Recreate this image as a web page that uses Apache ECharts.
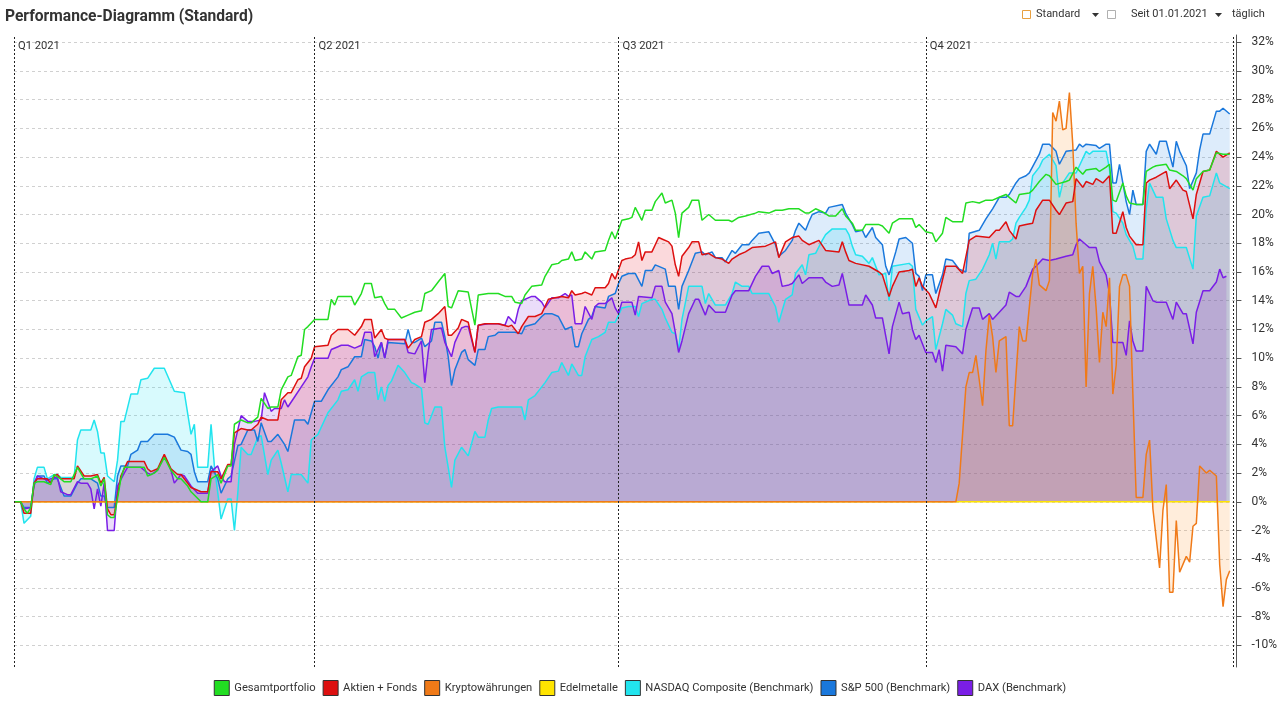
<!DOCTYPE html>
<html>
<head>
<meta charset="utf-8">
<script src="https://cdn.jsdelivr.net/npm/echarts@6/dist/echarts.min.js"></script>
<style>html,body{margin:0;padding:0;background:#fff}#c{width:1280px;height:705px}</style>
</head>
<body>
<div id="c"></div>
<script>
// ---- data: [day offset from 2021-01-01, performance %] ----
const START_DATE = '2021-01-01';
const QUARTER_DAYS = [0, 90, 181, 273];
const QUARTER_LABELS = ['Q1 2021', 'Q2 2021', 'Q3 2021', 'Q4 2021'];
const END_DAY = 365;
const AXIS_END_DAY = 366;

const GESAMT = [[0,0],[2,0],[3,-0.5],[4,-0.8],[5,-0.4],[6,1.3],[7,1.4],[9,1.4],[11,1.2],[12,1.9],[14,1.6],[15,1.4],[17,1.4],[19,2.4],[21,1.6],[23,1.6],[25,1.8],[26,1.1],[27,1.6],[28,-0.9],[29,-1.1],[30,-1.1],[32,1.6],[33,2.4],[39,2.4],[40,1.8],[42,2.0],[43,2.2],[45,3.1],[47,2.2],[49,1.6],[50,1.6],[52,1.1],[53,0.7],[56,0.0],[58,0.0],[59,1.6],[61,1.9],[62,1.3],[64,2.5],[65,2.5],[66,5.4],[68,5.7],[70,5.5],[71,5.5],[73,5.9],[74,7.2],[76,6.5],[77,6.6],[79,6.6],[80,7.8],[82,8.7],[83,8.8],[85,10.1],[86,10.2],[87,12.0],[88,12.2],[90,12.7],[94,12.7],[95,14.1],[96,13.7],[97,14.3],[101,14.3],[102,13.7],[104,14.5],[105,15.2],[107,15.2],[108,14.2],[110,14.3],[111,13.8],[112,13.4],[114,13.4],[116,12.8],[118,13.0],[120,13.2],[122,13.3],[123,14.5],[125,14.7],[127,15.3],[129,15.9],[130,13.6],[131,13.5],[133,14.7],[136,14.6],[138,12.3],[139,14.4],[142,14.5],[145,14.5],[147,14.3],[149,14.3],[150,13.9],[152,13.8],[153,14.4],[155,15.0],[158,15.1],[159,15.7],[161,16.5],[163,16.6],[164,16.8],[166,16.9],[167,17.4],[168,16.8],[170,16.9],[171,17.4],[173,16.9],[174,17.4],[177,17.5],[178,18.2],[179,18.8],[180,18.3],[182,19.6],[184,19.7],[185,19.8],[186,20.5],[188,19.6],[189,20.3],[191,20.3],[192,20.9],[194,21.5],[195,20.8],[197,21.0],[198,20.1],[199,18.4],[200,20.1],[202,20.5],[203,21.0],[205,21.0],[206,19.6],[208,20.0],[210,19.6],[214,19.6],[215,19.5],[217,19.8],[219,19.9],[222,20.1],[223,20.2],[226,20.1],[228,20.3],[230,20.3],[232,20.4],[235,20.4],[237,20.1],[238,20.1],[240,20.4],[242,20.2],[244,19.9],[246,19.9],[248,20.4],[249,19.9],[251,19.4],[252,18.9],[254,18.9],[255,19.3],[259,19.3],[260,19.2],[262,18.7],[263,19.4],[265,19.7],[269,19.7],[270,19.1],[271,19.3],[273,18.8],[275,18.7],[276,18.1],[278,18.7],[279,19.8],[281,19.5],[284,19.5],[285,20.8],[287,20.9],[289,20.8],[291,21.0],[293,21.0],[295,21.2],[297,21.4],[298,21.2],[300,20.8],[301,21.4],[304,21.5],[305,21.7],[307,22.3],[309,22.8],[310,22.7],[312,22.1],[315,22.3],[316,22.4],[318,23.3],[320,22.8],[321,23.1],[324,23.2],[325,23.0],[327,23.3],[328,23.5],[329,21.0],[330,20.9],[332,22.2],[333,21.3],[334,20.8],[336,20.7],[338,20.7],[339,23.0],[341,23.3],[342,23.4],[345,23.5],[346,23.1],[348,23.0],[350,22.7],[351,22.5],[353,21.7],[354,22.5],[356,23.0],[358,23.1],[360,24.3],[362,24.2],[364,24.2]];

const AKTIEN = [[0,0],[2,0],[3,-0.8],[5,-0.8],[6,1.3],[7,1.6],[10,1.6],[11,1.3],[12,1.8],[13,1.9],[14,1.6],[18,1.6],[19,2.5],[21,1.8],[23,1.8],[25,1.9],[26,1.3],[27,1.7],[28,-0.5],[29,-0.9],[30,-0.9],[32,1.8],[34,2.8],[39,2.8],[40,2.3],[41,2.1],[43,2.3],[45,3.3],[47,2.3],[49,1.9],[50,1.9],[52,1.3],[53,1.0],[56,0.7],[58,0.7],[59,2.1],[61,2.1],[62,1.6],[64,2.6],[65,2.6],[66,4.8],[68,5.1],[70,5.0],[71,5.0],[73,5.4],[74,5.9],[76,5.7],[79,5.7],[80,7.1],[82,7.6],[83,7.6],[85,8.5],[86,8.6],[87,9.4],[89,10.0],[90,10.8],[94,10.9],[95,11.6],[97,12.0],[100,12.0],[102,11.6],[104,12.2],[105,12.7],[107,12.7],[108,11.4],[110,12.0],[111,11.4],[112,11.3],[117,11.3],[118,10.7],[120,11.3],[122,11.5],[123,12.5],[125,12.7],[127,13.1],[129,13.6],[130,11.6],[131,11.6],[133,12.1],[134,12.7],[136,12.5],[138,10.4],[139,12.3],[141,12.4],[145,12.4],[148,12.2],[149,12.3],[151,11.7],[152,12.2],[154,12.9],[156,12.9],[158,13.1],[160,14.1],[162,14.2],[164,14.3],[166,14.2],[167,14.7],[168,14.4],[170,14.5],[171,14.6],[173,14.4],[174,14.9],[177,14.9],[178,15.2],[179,15.9],[180,15.5],[182,16.8],[183,16.9],[185,17.0],[186,17.2],[187,18.1],[188,16.8],[189,17.4],[191,17.4],[192,17.9],[193,18.4],[194,18.3],[196,18.1],[197,17.8],[198,16.5],[199,15.7],[200,17.1],[202,17.7],[203,18.1],[205,18.1],[206,17.2],[208,17.3],[210,17.0],[212,16.9],[214,16.6],[215,16.9],[217,17.2],[219,17.4],[221,17.7],[225,17.8],[228,18.1],[229,17.0],[231,18.1],[233,18.4],[235,18.5],[236,18.2],[238,17.9],[241,18.2],[243,17.5],[247,17.4],[248,18.1],[249,17.4],[250,16.8],[252,16.6],[256,16.4],[259,16.0],[260,15.8],[262,14.3],[263,15.0],[265,16.0],[268,16.1],[269,16.2],[270,15.0],[271,15.6],[272,15.0],[274,14.5],[276,13.5],[277,14.5],[279,16.4],[282,16.4],[284,15.9],[286,18.2],[288,18.5],[292,18.4],[294,18.9],[295,18.9],[297,19.5],[298,18.9],[300,18.3],[301,19.2],[303,19.3],[305,19.4],[306,20.3],[308,21.0],[310,21.0],[312,20.3],[313,20.0],[315,20.8],[317,20.9],[318,22.5],[320,21.9],[321,22.3],[323,22.1],[324,22.5],[326,22.2],[328,22.7],[329,18.7],[330,18.7],[332,20.2],[333,19.1],[334,18.5],[336,17.9],[338,17.9],[339,22.2],[340,22.4],[342,22.6],[345,23.0],[346,21.8],[348,22.4],[350,21.7],[351,21.6],[353,19.7],[354,21.4],[356,23.0],[358,23.1],[360,24.4],[362,24.0],[364,24.3]];

const KRYPTO = [[0,0],[282,0],[283,1.3],[285,8.0],[286,9.0],[287,9.0],[288,10.2],[289,8.5],[290,6.7],[291,10.5],[292,13.0],[293,11.5],[294,9.0],[295,11.2],[297,11.5],[298,5.3],[299,5.3],[300,8.8],[301,12.2],[302,11.2],[303,11.2],[305,15.9],[306,16.9],[307,15.1],[309,14.7],[310,15.4],[311,27.1],[312,26.5],[313,27.9],[314,25.9],[315,26.0],[316,28.5],[317,24.9],[318,19.4],[319,15.9],[320,16.4],[321,8.0],[322,14.5],[323,16.4],[324,13.5],[325,9.7],[326,13.2],[327,12.2],[328,15.6],[329,7.5],[330,9.5],[331,15.0],[332,15.8],[333,15.8],[334,15.0],[335,7.5],[336,0.3],[338,0.3],[339,3.3],[340,4.3],[341,-0.5],[343,-4.6],[344,-0.6],[345,1.2],[346,-6.3],[347,-6.3],[348,-1.3],[349,-4.9],[351,-3.8],[352,-4.2],[353,-1.7],[354,-1.5],[355,2.5],[357,2.0],[358,2.2],[360,1.8],[361,-4.4],[362,-7.3],[363,-5.4],[364,-4.8]];

const EDELMETALLE = [[0,0],[364,0]];

const NASDAQ = [[0,0],[2,0],[3,-1.5],[5,-1.0],[6,1.6],[7,2.4],[9,2.4],[10,1.6],[12,1.9],[13,1.9],[14,1.7],[18,1.7],[19,4.3],[20,5.0],[23,5.0],[24,5.7],[25,4.9],[26,3.4],[27,3.4],[28,1.8],[30,1.4],[31,2.9],[32,5.6],[33,5.6],[35,7.5],[37,7.5],[38,8.5],[40,8.6],[42,9.3],[45,9.3],[48,7.7],[51,7.6],[53,4.7],[54,5.4],[55,2.4],[58,2.4],[59,5.4],[60,2.5],[62,-1.2],[64,0.2],[65,0.2],[66,-2.0],[67,0.6],[68,3.8],[70,3.3],[71,3.3],[73,4.5],[74,4.6],[76,1.9],[77,2.9],[79,3.6],[80,2.7],[82,0.7],[83,1.9],[86,1.9],[88,1.3],[89,4.3],[91,4.7],[94,6.2],[97,7.1],[98,7.7],[100,7.8],[102,8.5],[103,7.7],[104,8.7],[106,9.0],[108,9.0],[109,7.1],[110,8.0],[111,7.0],[112,8.1],[113,8.4],[115,9.5],[117,9.0],[119,8.3],[120,8.2],[122,7.9],[123,5.5],[124,5.4],[126,6.6],[128,6.6],[129,3.8],[131,1.0],[132,2.9],[134,3.8],[136,3.2],[138,4.9],[139,4.5],[141,4.5],[142,5.7],[143,6.5],[145,6.6],[152,6.6],[153,5.7],[154,7.1],[156,7.4],[158,8.0],[159,8.3],[161,9.0],[163,9.1],[164,9.7],[166,8.8],[167,9.6],[169,8.8],[170,8.8],[171,10.1],[173,11.3],[175,11.5],[177,11.8],[178,12.5],[180,12.5],[182,13.5],[184,13.6],[186,13.6],[187,12.9],[188,13.8],[191,14.1],[192,14.1],[194,13.4],[195,12.8],[197,11.8],[198,11.7],[199,10.6],[200,12.7],[202,15.0],[206,15.0],[207,13.8],[208,14.5],[210,13.7],[213,13.7],[215,14.5],[216,15.3],[218,15.0],[220,15.0],[221,14.5],[226,14.5],[228,13.6],[229,12.5],[231,14.1],[233,14.4],[234,15.9],[236,16.5],[237,15.8],[238,17.2],[240,17.3],[242,18.2],[243,18.6],[245,19.0],[249,19.0],[250,18.6],[251,17.8],[252,17.2],[254,17.1],[256,16.6],[257,17.0],[259,15.8],[261,15.9],[262,14.0],[263,16.4],[268,16.6],[269,16.4],[270,13.4],[272,12.3],[273,12.6],[275,12.9],[276,10.6],[278,12.4],[279,13.4],[281,13.0],[282,12.4],[284,12.2],[285,14.5],[286,15.4],[288,15.5],[290,16.2],[292,17.2],[293,18.0],[294,16.9],[295,18.1],[298,18.1],[299,18.3],[300,19.4],[301,19.8],[303,20.5],[304,21.0],[305,22.7],[307,23.3],[308,23.8],[310,24.2],[312,23.4],[313,21.2],[314,22.2],[316,22.9],[318,22.9],[319,23.4],[321,24.4],[322,24.2],[323,24.4],[327,24.4],[328,23.2],[329,20.2],[330,20.1],[332,19.4],[333,18.6],[335,17.8],[336,16.9],[338,16.9],[339,20.4],[340,22.2],[342,21.2],[344,21.2],[345,19.7],[347,18.2],[348,17.7],[351,17.7],[353,16.2],[354,19.9],[356,21.2],[358,21.3],[360,22.9],[361,22.2],[364,21.8]];

const SP500 = [[0,0],[2,0],[3,-0.4],[5,-0.4],[6,1.1],[7,1.8],[9,1.8],[10,1.3],[12,1.6],[13,1.6],[15,0.4],[17,0.4],[19,1.3],[20,1.6],[23,1.6],[25,1.3],[26,0.4],[27,0.4],[28,-0.4],[30,-0.4],[31,1.8],[32,2.5],[34,2.5],[35,3.3],[37,3.6],[38,4.2],[40,4.2],[42,4.7],[46,4.7],[48,4.5],[50,3.6],[52,3.5],[53,3.3],[54,2.1],[55,1.4],[58,1.4],[59,2.5],[61,1.6],[62,0.6],[64,1.6],[65,1.8],[67,3.9],[68,4.0],[70,5.0],[72,5.0],[73,4.2],[74,5.5],[76,4.2],[77,4.2],[79,4.7],[81,4.0],[82,3.5],[84,5.7],[87,5.7],[88,5.4],[89,6.2],[90,7.0],[92,7.0],[94,7.8],[97,8.7],[98,9.2],[100,9.4],[102,10.1],[104,10.1],[105,11.3],[107,11.2],[108,10.8],[109,10.0],[110,11.1],[111,10.0],[112,11.1],[117,11.0],[118,12.0],[119,11.1],[120,11.1],[122,11.4],[123,10.8],[125,11.2],[126,12.5],[128,12.5],[129,11.5],[130,10.1],[131,8.1],[132,9.2],[134,10.4],[135,10.6],[136,9.9],[138,9.5],[139,10.6],[141,10.6],[142,11.5],[144,11.6],[145,11.8],[150,11.8],[152,11.7],[153,12.2],[156,12.4],[158,12.9],[159,13.1],[161,13.1],[163,12.9],[165,12.0],[167,12.2],[168,10.8],[169,10.8],[170,11.7],[172,12.7],[173,12.9],[174,13.6],[177,13.5],[178,14.3],[180,14.5],[181,15.2],[182,15.7],[184,15.9],[186,15.9],[188,15.0],[189,16.1],[191,16.1],[192,16.5],[195,16.2],[196,15.0],[198,15.0],[199,13.4],[200,15.0],[202,16.1],[204,17.3],[206,17.4],[207,17.2],[209,17.4],[210,17.0],[212,17.0],[213,16.7],[215,17.5],[216,17.3],[218,17.9],[220,17.9],[221,18.2],[223,18.7],[226,18.8],[228,17.9],[229,17.1],[231,17.5],[233,18.2],[234,18.9],[235,19.4],[237,18.9],[238,19.5],[239,20.0],[241,20.2],[243,20.1],[244,20.5],[248,20.7],[249,20.1],[251,19.3],[252,18.8],[254,18.9],[255,18.4],[257,19.1],[258,18.4],[260,17.9],[261,16.4],[262,15.8],[264,17.4],[265,18.3],[267,18.4],[269,18.0],[270,15.9],[271,15.7],[272,14.7],[273,15.8],[275,15.8],[276,14.5],[278,15.8],[279,16.9],[281,16.8],[283,16.2],[285,16.0],[286,18.7],[289,18.9],[291,19.7],[293,20.4],[295,21.2],[297,21.2],[298,21.4],[300,22.2],[301,22.5],[303,22.7],[304,22.9],[307,24.2],[308,24.9],[310,24.9],[312,24.4],[313,23.5],[315,24.4],[318,24.5],[319,24.9],[320,24.7],[321,24.9],[324,24.8],[325,24.6],[327,24.9],[328,24.9],[329,22.2],[330,22.2],[331,23.5],[333,20.9],[334,20.0],[335,21.7],[336,20.7],[338,20.7],[339,24.4],[340,24.9],[342,24.2],[343,25.1],[345,25.1],[346,24.2],[347,23.3],[348,25.1],[349,24.4],[351,23.4],[352,21.8],[354,22.9],[355,24.5],[356,25.6],[358,25.6],[360,27.2],[361,27.2],[362,27.4],[364,27.0]];

const DAX = [[0,0],[2,0],[3,-0.5],[5,-0.4],[6,1.3],[7,1.8],[9,1.6],[10,1.5],[12,1.7],[13,1.7],[14,0.7],[16,0.5],[17,0.5],[19,1.4],[20,1.3],[22,1.3],[23,0.9],[24,-0.5],[25,0.9],[26,-0.3],[27,1.3],[28,-2.0],[30,-2.0],[31,1.1],[33,2.0],[34,2.4],[38,2.4],[40,2.0],[41,1.9],[43,2.2],[45,3.2],[47,2.2],[48,1.3],[50,1.9],[51,1.8],[53,1.1],[55,0.6],[58,0.6],[59,2.1],[61,2.5],[62,1.8],[63,1.4],[65,1.4],[66,4.0],[68,6.0],[70,5.6],[72,5.6],[74,5.7],[75,7.6],[77,6.3],[78,6.5],[80,6.5],[81,7.1],[82,6.6],[84,7.3],[86,8.0],[88,8.7],[89,9.4],[90,10.0],[94,10.0],[95,10.6],[97,10.8],[98,10.9],[100,10.9],[102,10.7],[104,10.9],[105,11.8],[107,11.8],[108,10.1],[110,11.1],[111,10.0],[112,11.3],[117,11.3],[118,10.4],[120,10.3],[122,11.2],[123,8.3],[124,10.4],[125,12.0],[128,12.1],[129,11.1],[131,10.1],[132,11.1],[134,12.1],[135,12.2],[136,12.2],[138,10.4],[139,12.3],[142,12.4],[145,12.4],[147,12.3],[148,12.9],[150,12.4],[151,13.4],[152,14.0],[155,14.3],[156,14.3],[158,13.9],[159,13.5],[161,14.2],[163,14.2],[165,14.5],[166,14.3],[167,14.4],[168,12.4],[170,12.4],[171,13.6],[173,12.7],[174,13.6],[175,13.8],[177,13.8],[179,14.2],[180,13.5],[181,13.1],[182,13.9],[185,13.9],[186,13.0],[187,14.3],[191,14.2],[192,15.0],[194,15.0],[195,13.9],[197,13.1],[198,11.8],[199,10.4],[200,11.2],[202,13.1],[204,14.1],[205,14.1],[207,13.0],[208,13.7],[210,13.2],[213,13.2],[215,14.4],[216,14.7],[220,14.7],[222,15.7],[224,16.4],[226,16.4],[227,15.9],[229,16.1],[230,15.0],[232,15.1],[233,15.2],[235,15.8],[236,15.2],[238,15.6],[242,15.6],[243,15.3],[245,15.0],[247,15.1],[248,15.9],[250,13.7],[254,13.7],[255,14.4],[257,13.7],[258,12.8],[260,12.8],[262,10.3],[263,12.2],[265,13.9],[266,13.1],[268,13.2],[269,12.0],[270,11.3],[271,11.6],[273,10.4],[275,10.4],[276,9.7],[277,10.6],[278,9.1],[279,10.9],[282,10.8],[284,10.3],[285,12.0],[287,13.5],[289,13.5],[290,12.7],[292,13.1],[293,12.7],[295,13.2],[297,13.7],[298,14.6],[300,14.3],[301,14.3],[303,15.0],[305,16.2],[306,16.4],[308,16.9],[310,16.8],[312,16.9],[315,17.1],[317,17.2],[318,17.9],[319,18.3],[321,17.9],[322,17.7],[324,17.7],[325,16.7],[327,15.8],[328,14.5],[329,11.1],[332,11.1],[333,10.2],[334,12.6],[335,11.2],[336,10.5],[338,10.5],[339,15.0],[341,14.0],[342,13.9],[345,13.9],[347,12.7],[348,13.9],[350,13.1],[351,13.1],[353,11.0],[354,13.2],[356,14.7],[358,14.7],[360,15.3],[361,16.2],[362,15.6],[363,15.7]];

const Y_MIN = -11.5, Y_MAX = 32.5;

// ---- build ----
const FONT = 'Roboto, "Noto Sans", sans-serif';
const DAY_MS = 86400000;
const T0 = new Date(START_DATE + 'T00:00:00').getTime();
const t = d => T0 + d * DAY_MS;
const conv = arr => arr.map(p => [t(p[0]), p[1]]);

function mk(name, data, color, area, extra) {
  const s = {
    name, type: 'line', data: conv(data), symbol: 'none', showSymbol: false,
    lineStyle: { width: 1.5, color: color },
    itemStyle: { color: color },
    emphasis: { disabled: true },
    silent: true
  };
  if (area) s.areaStyle = { color: area };
  return Object.assign(s, extra || {});
}

const quarterLines = QUARTER_DAYS.concat([END_DAY]).map(d => ({ xAxis: t(d) }));
const quarterAreas = QUARTER_DAYS.map((d, i) => [
  { xAxis: t(d), name: QUARTER_LABELS[i] },
  { xAxis: t(i + 1 < QUARTER_DAYS.length ? QUARTER_DAYS[i + 1] : END_DAY) }
]);

const chart = echarts.init(document.getElementById('c'), null, { renderer: 'canvas' });
chart.setOption({
  animation: false,
  backgroundColor: '#fff',
  textStyle: { fontFamily: FONT },
  title: {
    text: 'Performance-Diagramm (Standard)', left: 0, top: 4,
    textStyle: { fontSize: 15.6, fontWeight: 'bold', color: '#333', fontFamily: FONT }
  },
  grid: { left: 14, right: 41, top: 35, bottom: 38, containLabel: false },
  xAxis: {
    type: 'time', min: t(0), max: t(AXIS_END_DAY),
    show: false, splitLine: { show: false }
  },
  yAxis: {
    type: 'value', position: 'right', min: Y_MIN, max: Y_MAX, splitNumber: 22,
    axisLine: { show: true, lineStyle: { color: '#555', width: 1 } },
    axisTick: { show: true, length: 5, lineStyle: { color: '#555' } },
    axisLabel: {
      color: '#333', fontSize: 12, margin: 15, fontFamily: FONT,
      showMinLabel: false, showMaxLabel: false,
      formatter: v => v + '%'
    },
    splitLine: { show: true, showMinLine: false, showMaxLine: false,
      lineStyle: { color: '#d0d0d0', type: [3, 3], width: 1 } }
  },
  legend: {
    bottom: 4, left: 'center', icon: 'rect', itemWidth: 15, itemHeight: 15, itemGap: 7,
    itemStyle: { borderColor: '#333', borderWidth: 1 },
    textStyle: { color: '#333', fontSize: 11.2, fontFamily: FONT },
    data: ['Gesamtportfolio', 'Aktien + Fonds', 'Kryptowährungen', 'Edelmetalle',
           'NASDAQ Composite (Benchmark)', 'S&P 500 (Benchmark)', 'DAX (Benchmark)'],
    selectedMode: false
  },
  series: [
    mk('NASDAQ Composite (Benchmark)', NASDAQ, '#22e4ee', 'rgba(0,225,245,0.22)'),
    mk('S&P 500 (Benchmark)', SP500, '#1a78dc', 'rgba(30,130,230,0.22)'),
    mk('DAX (Benchmark)', DAX, '#7a1ee6', 'rgba(120,30,220,0.21)'),
    mk('Edelmetalle', EDELMETALLE, '#ffe400', 'rgba(255,230,0,0.2)'),
    mk('Kryptowährungen', KRYPTO, '#f07a18', 'rgba(255,140,20,0.22)'),
    mk('Aktien + Fonds', AKTIEN, '#dd1010', 'rgba(230,0,20,0.21)'),
    mk('Gesamtportfolio', GESAMT, '#22dd22', null, {
      markLine: {
        silent: true, symbol: 'none', animation: false,
        lineStyle: { color: '#222', type: [2, 2], width: 1 },
        label: { show: false },
        data: quarterLines
      },
      markArea: {
        silent: true,
        itemStyle: { color: 'rgba(0,0,0,0)' },
        label: { show: true, position: 'insideTopLeft', color: '#333', fontSize: 11.2, fontFamily: FONT, distance: 4, offset: [0, 2] },
        data: quarterAreas
      }
    })
  ],
  graphic: [{
    type: 'group', left: 1020, top: 8,
    children: [
      { type: 'rect', shape: { x: 0.5, y: 2.5, width: 8, height: 8 }, style: { fill: 'none', stroke: '#e8a040', lineWidth: 1 } },
      { type: 'text', x: 14, y: 0.5, style: { text: 'Standard', fill: '#333', font: '11px ' + FONT } },
      { type: 'polygon', shape: { points: [[70, 5], [77, 5], [73.5, 9]] }, style: { fill: '#333' } },
      { type: 'rect', shape: { x: 85.5, y: 2.5, width: 8, height: 8 }, style: { fill: 'none', stroke: '#b0b0b0', lineWidth: 1 } },
      { type: 'text', x: 109, y: 0.5, style: { text: 'Seit 01.01.2021', fill: '#333', font: '11px ' + FONT } },
      { type: 'polygon', shape: { points: [[193, 5], [200, 5], [196.5, 9]] }, style: { fill: '#333' } },
      { type: 'text', x: 210, y: 0.5, style: { text: 'täglich', fill: '#333', font: '11px ' + FONT } }
    ]
  }]
});
</script>
</body>
</html>
